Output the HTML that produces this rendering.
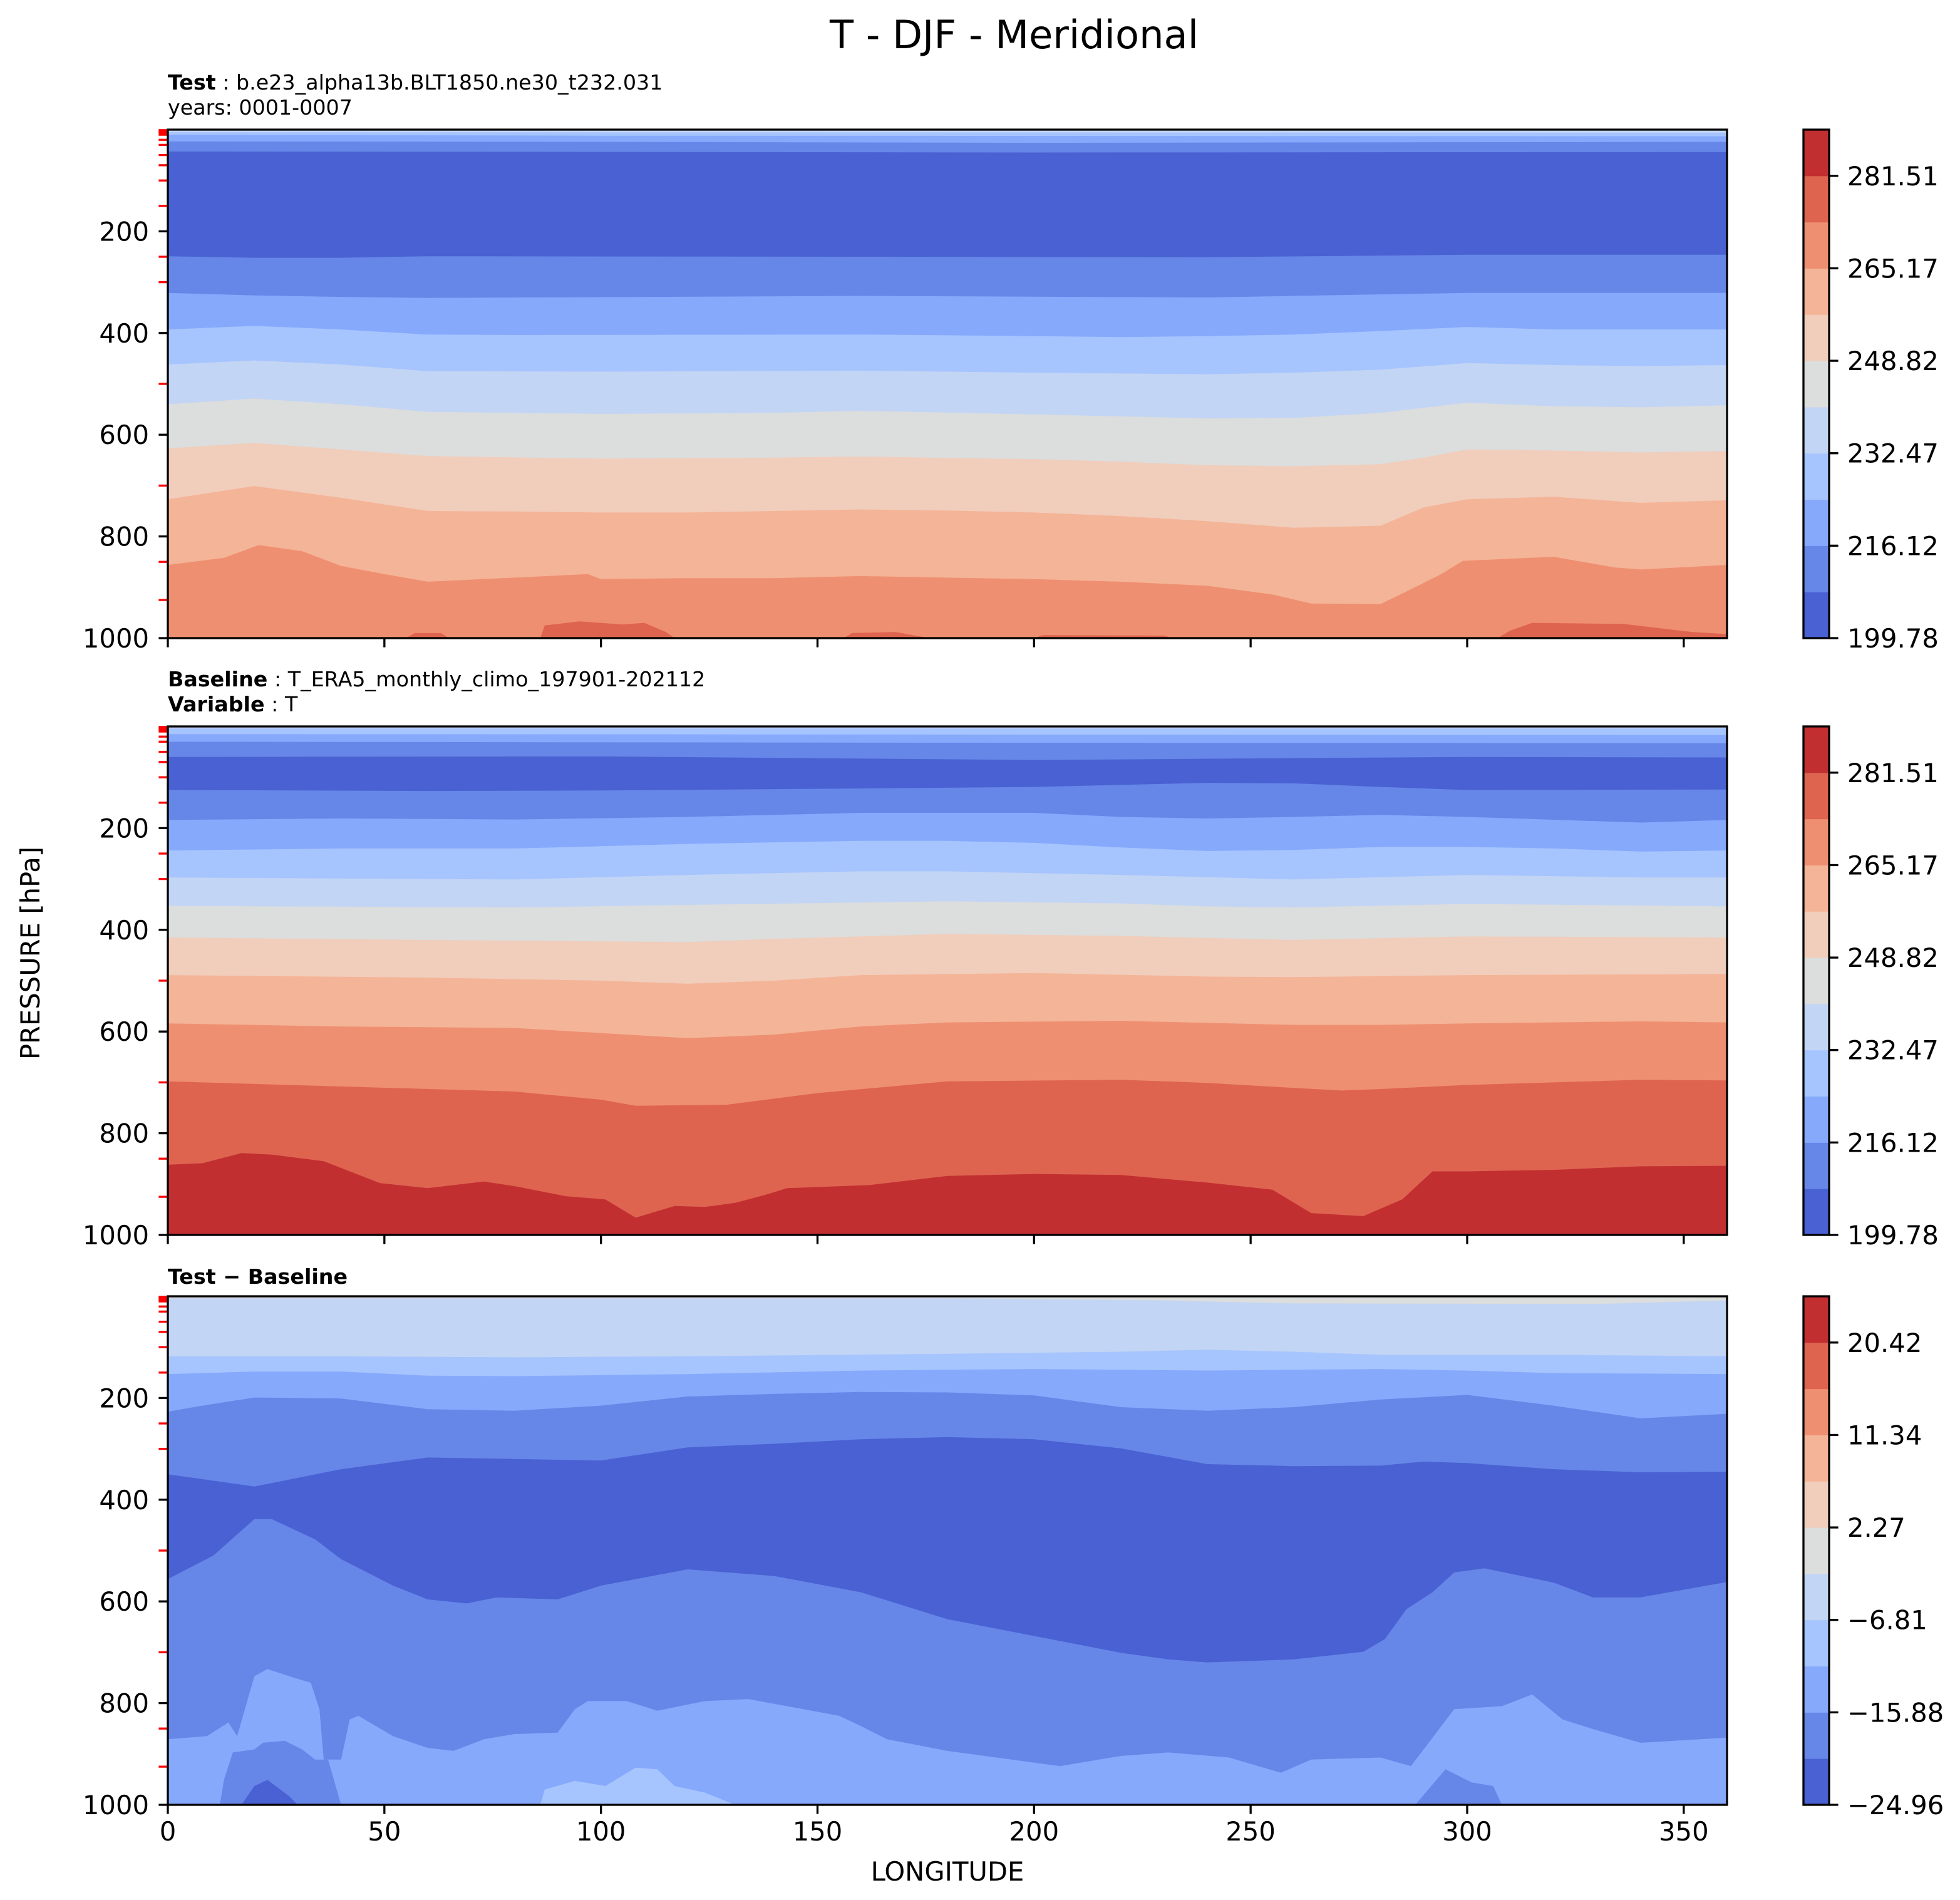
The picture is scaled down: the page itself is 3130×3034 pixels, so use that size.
<!DOCTYPE html>
<html><head><meta charset="utf-8"><style>
html,body{margin:0;padding:0;background:#fff;}
svg{display:block;font-family:"DejaVu Sans","Liberation Sans",sans-serif;}
</style></head><body>
<svg id="fig" width="3130" height="3034" viewBox="0 0 3130 3034" xmlns="http://www.w3.org/2000/svg">
<rect width="3130" height="3034" fill="#fff"/>
<text x="1325" y="77" font-size="62" textLength="589" lengthAdjust="spacingAndGlyphs">T - DJF - Meridional</text>
<text x="268" y="143" font-size="33.3"><tspan font-weight="bold">Test</tspan> : b.e23_alpha13b.BLT1850.ne30_t232.031</text>
<text x="268" y="183" font-size="33.3">years: 0001-0007</text>
<text x="268" y="1096" font-size="33.3"><tspan font-weight="bold">Baseline</tspan> : T_ERA5_monthly_climo_197901-202112</text>
<text x="268" y="1136" font-size="33.3"><tspan font-weight="bold">Variable</tspan> : T</text>
<text x="268" y="2050" font-size="33.3" font-weight="bold">Test − Baseline</text>
<text transform="translate(63,1522) rotate(-90)" text-anchor="middle" font-size="41.7">PRESSURE [hPa]</text>
<text x="1513" y="3003" text-anchor="middle" font-size="41.7">LONGITUDE</text>
<g id="panels"></g>
</svg>
<script>
const colors = ['#4961d2','#6687e8','#86a9fc','#a6c4fe','#c3d5f4','#dcdddd','#f1cdbb','#f4b497','#ef8f71','#de6450','#c22f31'];
const tempTicks = ['199.78','216.12','232.47','248.82','265.17','281.51'];
const diffTicks = ['\u221224.96','\u221215.88','\u22126.81','2.27','11.34','20.42'];
const xTicks = [0,50,100,150,200,250,300,350];
const yTicks = [200,400,600,800,1000];
const modelLevels = [1,2,3,5,7,10,20,30,50,70,100,150,250,300,500,700,850,925];

const testBase = 4;
const testLayerColors = [3,2,1,0,1,2,3,4,5,6,7,8,9,9,9,9,9];
const testLayers = [
 [[0,5],[360,6]],
 [[0,10],[100,12],[360,13]],
 [[0,23],[100,24],[200,26],[360,24]],
 [[0,43],[120,44],[200,45],[360,44]],
 [[0,249],[20,252],[40,252],[60,249],[160,250],[240,251],[300,246],[360,246]],
 [[0,321],[20,326],[40,329],[60,331],[160,327],[240,330],[280,324],[300,321],[360,321]],
 [[0,393],[20,386],[40,393],[60,403],[80,404],[160,403],[200,406],[220,408],[240,406],[260,403],[280,396],[300,388],[320,393],[360,393]],
 [[0,462],[20,454],[40,462],[60,475],[100,476],[160,474],[200,478],[240,481],[260,478],[280,472],[300,459],[320,463],[340,465],[360,463]],
 [[0,540],[20,529],[40,540],[60,555],[100,559],[140,557],[160,553],[200,560],[240,568],[260,567],[280,557],[300,537],[320,544],[340,546],[360,542]],
 [[0,627],[20,616],[40,629],[60,642],[100,647],[140,645],[160,643],[200,648],[220,653],[240,660],[260,662],[280,658],[290,645],[300,629],[320,631],[340,635],[360,632]],
 [[0,727],[20,701],[40,724],[60,750],[80,751],[100,753],[120,753],[140,750],[160,747],[180,749],[200,753],[220,760],[240,770],[260,783],[280,779],[290,743],[300,727],[320,722],[340,734],[360,729]],
 [[0,856],[13,842],[21,817],[31,829],[40,858],[50,874],[60,889],[80,881],[97,874],[100,884],[120,882],[140,882],[160,878],[180,881],[200,884],[220,889],[240,897],[255,914],[264,932],[280,933],[287,904],[294,874],[299,848],[320,840],[334,861],[340,865],[360,856]],
 [[55,1000],[57,990],[63,990],[65,1000]],
 [[86,1000],[87,975],[95,967],[105,973],[110,970],[115,988],[117,1000]],
 [[156,1000],[158,990],[168,988],[176,1000]],
 [[200,1000],[202,994],[230,995],[232,1000]],
 [[307,1000],[310,985],[315,970],[336,972],[352,988],[360,992]]
];

const baseBase = 4;
const baseLayerColors = [3,2,1,0,1,2,3,4,5,6,7,8,9,10];
const baseLayers = [
 [[0,4],[360,4]],
 [[0,15],[360,17]],
 [[0,30],[180,32],[360,33]],
 [[0,60],[100,59],[200,66],[300,60],[360,61]],
 [[0,125],[60,127],[100,126],[160,122],[200,119],[240,111],[260,112],[280,119],[300,125],[360,124]],
 [[0,184],[40,181],[80,183],[120,178],[160,170],[200,170],[220,178],[240,181],[260,178],[280,174],[300,178],[340,189],[360,184]],
 [[0,244],[40,240],[80,240],[120,231],[160,225],[180,225],[200,229],[220,238],[240,245],[260,243],[280,237],[300,237],[320,240],[340,246],[360,244]],
 [[0,297],[80,301],[120,292],[160,285],[180,285],[220,292],[260,301],[300,292],[340,297],[360,297]],
 [[0,353],[80,356],[120,351],[180,344],[220,348],[240,354],[260,356],[300,349],[360,354]],
 [[0,415],[60,420],[120,424],[140,418],[180,408],[220,412],[260,420],[300,413],[360,415]],
 [[0,489],[60,494],[100,500],[120,506],[140,500],[160,489],[200,485],[240,492],[260,493],[300,489],[360,487]],
 [[0,584],[40,590],[80,593],[100,603],[120,613],[140,606],[160,590],[180,582],[220,579],[260,587],[280,587],[300,584],[340,580],[360,582]],
 [[0,698],[40,708],[80,718],[100,734],[108,746],[129,744],[150,721],[180,698],[220,695],[240,701],[260,711],[271,716],[280,713],[300,705],[340,695],[360,696]],
 [[0,862],[8,859],[17,839],[24,842],[36,855],[49,898],[60,908],[73,895],[80,904],[92,924],[101,930],[108,966],[117,943],[124,945],[131,937],[138,921],[143,908],[162,902],[180,884],[200,880],[220,882],[240,897],[255,911],[264,957],[276,963],[285,930],[292,875],[300,875],[320,872],[340,865],[360,864]]
];

const diffBase = 5;
const diffLayerColors = [4,3,2,1,0,1,2,1,1,3,0];
const diffLayers = [
 [[0,4],[180,4],[230,8],[260,14],[330,15],[360,8]],
 [[0,118],[40,118],[80,120],[120,118],[180,113],[220,109],[240,105],[260,109],[280,115],[320,115],[360,118]],
 [[0,153],[20,148],[40,148],[60,156],[80,157],[120,153],[160,146],[200,143],[240,146],[280,143],[300,146],[320,151],[360,153]],
 [[0,227],[8,215],[20,199],[40,201],[60,222],[80,225],[100,215],[120,197],[140,192],[160,188],[180,189],[200,195],[220,218],[240,225],[260,218],[280,203],[300,194],[320,215],[340,240],[360,231]],
 [[0,350],[20,374],[40,340],[60,317],[80,320],[100,323],[120,297],[140,290],[160,281],[180,277],[200,281],[220,299],[240,330],[260,334],[280,333],[290,325],[300,328],[320,340],[340,346],[360,345]],
 [[0,556],[10.5,510],[20,438],[24,438],[34,478],[40,517],[52,569],[60,596],[69,604],[76,592],[90,596],[100,569],[120,537],[140,550],[160,582],[180,635],[200,668],[220,701],[231,714],[240,720],[260,714],[276,699],[281,674],[286,615],[292,582],[297,543],[304,535],[320,563],[329,592],[340,592],[360,562]],
 [[0,871],[9,865],[14,838],[16,865],[20,747],[23,733],[28,747],[33,760],[35,812],[36,911],[40,911],[42,832],[44,825],[48,845],[52,865],[60,888],[66,894],[73,871],[80,861],[90,858],[94,812],[97,796],[106,796],[113,815],[124,796],[134,792],[143,806],[155,825],[160,845],[166,871],[180,894],[200,917],[206,924],[220,904],[231,897],[245,907],[257,937],[264,911],[280,907],[287,924],[297,812],[308,806],[315,783],[322,832],[329,851],[340,878],[360,868]],
 [[12,1000],[13,950],[15,897],[20,891],[22,878],[27,874],[31,891],[34,911],[37,911],[40,1000]],
 [[288,1000],[295,930],[301,956],[306,963],[308,1000]],
 [[86,1000],[87,970],[94,953],[101,963],[108,927],[113,930],[117,963],[124,976],[131,1000]],
 [[17,1000],[20,963],[23,951],[26,970],[28,983],[30,1000]]
];

const NS = 'http://www.w3.org/2000/svg';
const L = 268, R = 2758, H = 812;
const FS = 41.7, TW = 3.3, TL = 14.6;
const xS = lon => L + lon / 360 * (R - L);
const yS = (p, top) => top + p / 1000 * H;
const g = document.getElementById('panels');
function mk(tag, attrs, parent) {
  const e = document.createElementNS(NS, tag);
  for (const k in attrs) e.setAttribute(k, attrs[k]);
  (parent || g).appendChild(e);
  return e;
}

function drawPanel(name, top, base, layerColors, layers, cbTicks, showXLabels) {
  const grp = mk('g', {});
  
  
  const clipId = 'clip-' + name;
  const cp = mk('clipPath', {id: clipId}, grp);
  mk('rect', {x: L, y: top, width: R - L, height: H}, cp);
  const field = mk('g', {'clip-path': 'url(#' + clipId + ')'}, grp);
  const bg = mk('rect', {x: L, y: top, width: R - L, height: H, fill: colors[base]}, field);
  
  
  layers.forEach((pts, i) => {
    let d = 'M' + xS(pts[0][0]).toFixed(1) + ',' + yS(1000, top).toFixed(1);
    pts.forEach(pt => { d += 'L' + xS(pt[0]).toFixed(1) + ',' + yS(pt[1], top).toFixed(1); });
    d += 'L' + xS(pts[pts.length - 1][0]).toFixed(1) + ',' + yS(1000, top).toFixed(1) + 'Z';
    const path = mk('path', {d: d, fill: colors[layerColors[i]]}, field);
    
    
  });
  modelLevels.forEach(p => {
    const t = mk('line', {x1: L - TL, x2: L, y1: yS(p, top), y2: yS(p, top), stroke: '#ff0000', 'stroke-width': TW}, grp);
    
    
  });
  yTicks.forEach(p => {
    const y = yS(p, top);
    mk('line', {x1: L - TL, x2: L, y1: y, y2: y, stroke: '#000', 'stroke-width': TW}, grp);
    const t = mk('text', {x: 238, y: y + 15, 'text-anchor': 'end', 'font-size': FS}, grp);
    t.textContent = p;
    
    
  });
  xTicks.forEach(lon => {
    const x = xS(lon);
    mk('line', {x1: x, x2: x, y1: top + H, y2: top + H + TL, stroke: '#000', 'stroke-width': TW}, grp);
    if (showXLabels) {
      const t = mk('text', {x: x, y: top + H + 57, 'text-anchor': 'middle', 'font-size': FS}, grp);
      t.textContent = lon;
      
      
    }
  });
  const frame = mk('rect', {x: L, y: top, width: R - L, height: H, fill: 'none', stroke: '#000', 'stroke-width': TW}, grp);
  
  
  const cb = mk('g', {}, grp);
  
  
  const cx = 2880, cw = 41, n = colors.length, bh = H / n;
  colors.forEach((c, i) => {
    const r = mk('rect', {x: cx, y: top + H - (i + 1) * bh, width: cw, height: bh + 0.5, fill: c}, cb);
    
    
  });
  mk('rect', {x: cx, y: top, width: cw, height: H, fill: 'none', stroke: '#000', 'stroke-width': TW}, cb);
  cbTicks.forEach((lab, k) => {
    const y = top + H - 2 * k * bh;
    mk('line', {x1: cx + cw, x2: cx + cw + TL, y1: y, y2: y, stroke: '#000', 'stroke-width': TW}, cb);
    const t = mk('text', {x: 2950, y: y + 15, 'font-size': FS}, cb);
    t.textContent = lab;
    
    
  });
}

drawPanel('test', 207, testBase, testLayerColors, testLayers, tempTicks, false);
drawPanel('baseline', 1160, baseBase, baseLayerColors, baseLayers, tempTicks, false);
drawPanel('difference', 2070, diffBase, diffLayerColors, diffLayers, diffTicks, true);
</script>
</body></html>
